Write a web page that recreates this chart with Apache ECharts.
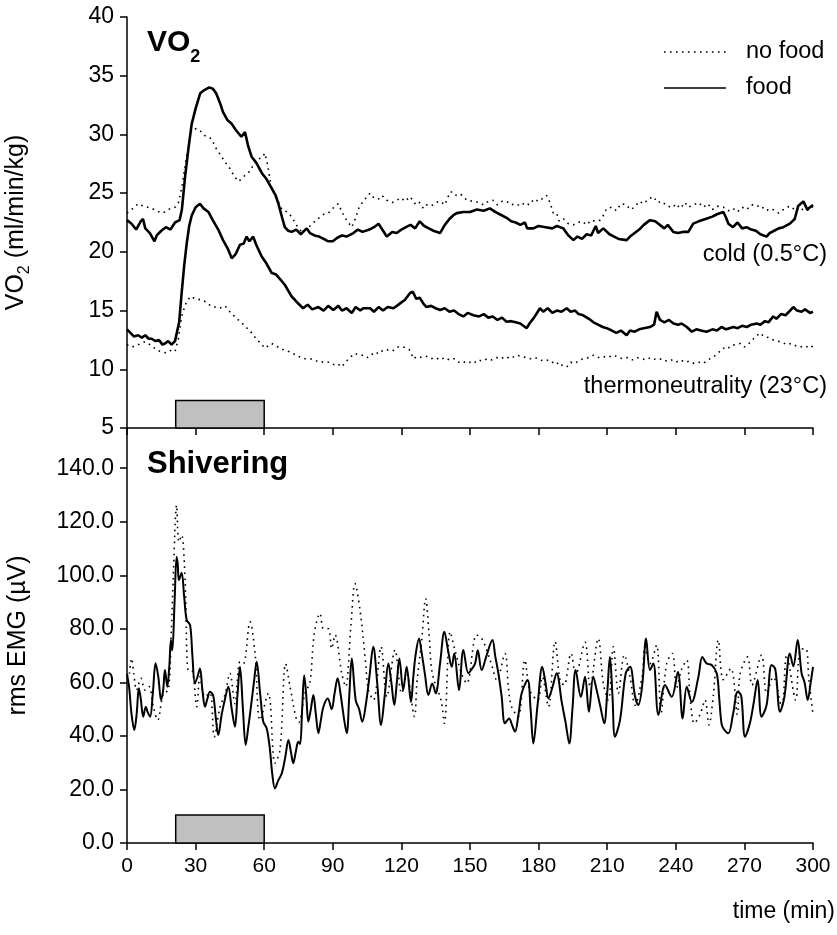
<!DOCTYPE html>
<html><head><meta charset="utf-8">
<script src="https://cdn.jsdelivr.net/npm/echarts@6/dist/echarts.min.js"></script>
<style>html,body{margin:0;padding:0;background:#fff}#c{width:837px;height:935px}</style>
</head><body><div id="c"></div>
<script>
// ---- data ----
const xTickValues = [0,30,60,90,120,150,180,210,240,270,300];
const vo2Ticks = [5,10,15,20,25,30,35,40];
const emgTicks = [0,20,40,60,80,100,120,140];
const seriesNames = ['no food','food'];
const panelTitles = ['VO2','Shivering'];
const conditionLabels = ['cold (0.5°C)','thermoneutrality (23°C)'];
const feedingTime = [21.3, 60];
const vo2BarTop = 7.35;
const emgBarTop = 10.5;

const coldFood = [[0,22.7],[2,22.4],[4,21.9],[6,22.6],[7,22.8],[8,22.0],[10,21.6],[12,20.9],[13,21.4],[15,21.8],[17,22.1],[19,21.9],[21,22.5],[23,22.7],[24,23.6],[25.4,26.4],[27,29.0],[28.3,30.9],[30,32.2],[32,33.5],[34,33.8],[36,34.0],[37.5,33.9],[39,33.5],[41,32.5],[42,31.9],[44,31.2],[45.8,30.9],[47.5,30.4],[50,29.8],[51.6,30.2],[53,29.0],[54.5,28.1],[56.5,27.6],[59,26.7],[61,26.2],[63.3,25.4],[65,24.8],[66.2,24.1],[68,22.8],[69,22.1],[70.5,21.8],[72,21.7],[74,21.9],[76,21.5],[78.6,22.0],[80,21.6],[82,21.4],[84,21.3],[86,21.1],[88,20.9],[90,20.9],[92,21.2],[94,21.4],[96,21.3],[99,21.6],[101,21.9],[103,21.7],[106,21.9],[108,22.1],[110,22.4],[112,21.8],[113.6,21.3],[116,21.7],[118,21.6],[120,21.9],[122,22.1],[124,22.3],[126,22.0],[128,22.6],[130,22.2],[132,22.0],[134,21.8],[136.9,21.6],[139,22.3],[141,22.8],[142.6,23.1],[144.2,23.3],[147,23.4],[150,23.4],[153,23.6],[156,23.5],[158.7,23.7],[161,23.4],[163,23.2],[166,22.9],[168,22.6],[170,22.5],[172,22.3],[174,22.5],[175,22.0],[177.7,22.0],[180,22.2],[183,22.1],[186,22.0],[188,22.2],[190.8,22.0],[193,21.4],[195.2,21.0],[197,21.3],[199,21.1],[201,21.5],[203,21.4],[205,22.2],[206,21.6],[208.3,22.0],[211,21.5],[213,21.3],[215,21.1],[218.5,21.0],[220,21.3],[222,21.6],[224,21.9],[226,22.3],[228.7,22.7],[231,22.6],[233,22.3],[235,22.0],[236.5,22.3],[238.9,21.7],[241,21.6],[243,21.7],[245.5,21.7],[247.6,22.4],[250,22.6],[253,22.8],[256,23.0],[258,23.2],[260.8,23.4],[262,22.9],[263,22.4],[265,22.1],[267,22.5],[269,22.0],[271,22.1],[273,21.9],[275,21.8],[277,21.5],[279.7,21.3],[281,21.6],[283,21.8],[285,22.0],[287,22.1],[289.9,22.4],[292,22.8],[293.5,23.9],[295.8,24.3],[297.5,23.6],[299.4,23.9],[300,24.0]];

const coldNoFood = [[0,23.3],[2,23.6],[4.9,24.1],[7,23.9],[9,23.8],[10.8,23.7],[13,23.5],[15,23.3],[16.6,23.4],[19,23.7],[21,23.8],[22.4,24.1],[24,25.5],[25.4,27.3],[27,29.2],[28.3,30.4],[30.5,30.5],[32,30.3],[34,29.9],[35.6,29.8],[37,29.6],[39,28.8],[41.4,28.1],[43,27.6],[45,27.1],[47,26.4],[48.7,26.0],[50,26.2],[51.5,26.5],[53,26.7],[55,27.3],[57,27.9],[59,28.0],[60.3,28.4],[61.5,27.4],[63.3,25.3],[65,24.8],[67.7,23.6],[70,23.4],[72,23.0],[74,22.3],[76.4,21.7],[78,21.9],[80,22.2],[82.2,22.6],[84,22.9],[86,23.2],[88,23.3],[90,23.7],[92.4,24.1],[94,23.4],[96,22.7],[98.3,22.1],[100,22.9],[101.5,23.8],[103.3,24.3],[106.3,25.0],[108,24.6],[110,24.5],[111.5,24.8],[113.6,24.4],[116,24.2],[118,24.4],[120,24.6],[121.5,24.3],[123.8,24.7],[126,24.1],[127.5,24.3],[129.6,23.7],[131,24.0],[133,23.9],[135,24.2],[137,24.3],[139,24.0],[141.3,25.1],[142.7,25.1],[144,24.8],[146,24.9],[148.6,24.4],[151.5,24.3],[154,24.2],[156,24.0],[158,24.3],[160,24.4],[162,24.0],[164,24.3],[166,24.3],[168,24.0],[170,24.1],[172,23.9],[174,24.2],[176,24.0],[178,24.5],[180,24.3],[182,24.6],[183.5,24.8],[185,24.2],[186.4,23.3],[187.9,23.3],[189,22.6],[191,22.8],[193,22.4],[195.2,22.3],[197,22.5],[199,22.6],[201,22.3],[203,22.7],[205,22.6],[206.9,22.7],[208.3,23.1],[209.8,23.7],[212,23.8],[214,23.5],[216,24.1],[218.5,24.0],[220,23.6],[222,23.8],[224,24.3],[226,24.1],[228,24.5],[230.2,24.7],[232,24.2],[234,24.3],[236,23.9],[238.9,23.8],[240,24.1],[242,23.7],[244,24.2],[245.5,23.8],[247.7,24.0],[250,24.2],[252,23.8],[254,24.1],[256,23.6],[258,23.9],[260.8,23.8],[263,23.5],[265,23.7],[267,23.4],[269,23.8],[271,23.6],[273,24.0],[275.4,24.0],[277,23.7],[279,23.8],[280.5,23.5],[282.6,23.6],[285,23.3],[287,23.6],[289.9,23.9],[292,23.6],[294,23.9],[296,23.5],[298.7,23.6],[300,23.9]];

const thermoFood = [[0,13.4],[1.5,13.1],[3,12.8],[4.9,12.9],[6.5,12.7],[8,12.9],[9.5,12.6],[10.8,12.6],[12.5,12.4],[14,12.5],[15.5,12.1],[16.6,12.2],[18,12.4],[19.5,12.1],[21,12.4],[21.7,12.5],[22.8,14.0],[23.9,16.5],[25,18.8],[26.1,20.7],[27.2,22.2],[28.3,23.1],[30,23.8],[31.9,24.1],[33.5,23.7],[35.6,23.4],[37.5,22.7],[39.9,21.9],[42,21.0],[44,20.3],[45.8,19.45],[47.5,19.8],[49.4,20.6],[51,20.7],[52.3,21.3],[53.5,20.9],[55.2,21.3],[56.5,20.6],[58.9,19.6],[61,19.0],[63.3,18.2],[65,18.1],[67.7,17.5],[69,17.2],[70.5,16.7],[72,16.2],[73.5,15.9],[74.9,15.6],[77,15.2],[79,15.5],[81,15.1],[83.7,15.3],[86,15.0],[88,15.4],[90.2,15.05],[92.4,15.4],[94,15.0],[96,15.2],[98.3,14.8],[100,15.3],[102,15.0],[103.3,15.2],[106.3,15.2],[108,14.9],[110,15.3],[112,15.0],[114,15.3],[116.5,15.2],[118,15.4],[120,15.7],[121.5,15.9],[123.8,16.5],[125,16.6],[126.5,16.0],[128,16.1],[129.6,15.6],[131,15.3],[133,15.4],[135,15.2],[136.9,15.05],[139,15.2],[141,14.9],[143,15.0],[145,14.7],[147.1,14.5],[149,14.8],[151.5,14.6],[154,14.5],[156,14.7],[158,14.4],[160,14.5],[162,14.2],[164,14.4],[166,14.05],[168,14.1],[170,14.0],[172,13.9],[174.8,13.5],[176,13.9],[178,14.4],[180.6,15.2],[182,14.9],[184,15.2],[186,14.8],[188,15.0],[190,14.9],[192.3,15.2],[194,14.9],[196,15.0],[197.5,14.7],[199.5,14.6],[202,14.3],[204,14.0],[206,13.8],[208,13.6],[209.8,13.5],[212,13.3],[214,13.1],[216,13.3],[218.5,12.9],[220,13.3],[222,13.2],[224,13.4],[226,13.5],[228.7,13.6],[230.5,13.8],[231.6,14.9],[233.1,14.2],[235,14.0],[237,14.2],[239,13.9],[241,13.8],[242.5,13.9],[244.8,13.6],[247,13.2],[249,13.4],[251,13.3],[253.5,13.2],[256,13.4],[258,13.3],[260,13.6],[262,13.4],[265.2,13.6],[267,13.5],[269,13.7],[271,13.6],[273,13.8],[275.4,13.9],[277,13.8],[279,14.1],[280.5,14.0],[282.6,14.5],[284,14.3],[286,14.7],[288,14.6],[289.5,14.9],[291.4,15.3],[293,15.0],[295,14.9],[296.5,15.1],[298.7,14.8],[300,14.9]];

const thermoNoFood = [[0,12.1],[2,11.9],[4,12.0],[6,12.2],[7.9,12.35],[10,12.1],[12,11.8],[13.5,11.6],[15.2,11.5],[17,11.4],[19,11.6],[21,11.5],[22.5,12.6],[23.9,14.5],[25.5,15.5],[27.6,16.2],[30,16.0],[32.7,15.9],[35,15.7],[36.5,15.4],[38.5,15.3],[40.5,15.2],[42.9,15.4],[44.5,15.0],[46.5,14.6],[48.7,14.2],[51,13.8],[52.5,13.5],[54.5,13.1],[56.5,12.6],[58.5,12.2],[60.3,11.8],[61.8,12.0],[63.3,12.2],[65,12.0],[67,11.8],[69.1,11.6],[71,11.5],[73,11.3],[75,11.1],[77.8,10.9],[80,10.9],[82,10.8],[84,10.6],[86.6,10.65],[88.5,10.6],[90.5,10.4],[92,10.5],[93.9,10.2],[95.5,10.6],[97.5,11.0],[99.7,11.35],[101.5,11.2],[103.3,11.2],[105,11.0],[107,11.3],[108.5,11.2],[110.6,11.6],[112.5,11.5],[114.5,11.7],[116.5,11.6],[118.5,11.9],[120.8,11.9],[122.5,11.8],[123.8,11.6],[125.2,10.9],[127,11.1],[129,11.0],[131,11.1],[133,10.9],[135,11.0],[136.9,10.8],[139,11.0],[141,10.8],[143,10.9],[145,10.6],[146.8,10.7],[148.6,10.5],[150,10.6],[151.5,10.5],[153.5,10.8],[155.5,10.7],[157.5,10.9],[159.5,10.8],[161.5,11.0],[163.5,10.9],[165.5,11.1],[167.5,10.9],[170.4,11.2],[172.5,11.1],[174.5,11.0],[176.5,10.9],[178.5,11.0],[180.5,10.8],[182.5,10.7],[184.5,10.8],[186,10.6],[187.5,10.4],[189,10.6],[190.5,10.3],[192.3,10.2],[194,10.6],[196,10.5],[198,10.8],[200,10.9],[202,11.0],[204,11.2],[206,11.0],[208,11.1],[210,11.0],[212.7,11.2],[215,11.0],[217,10.9],[219,11.0],[221,10.8],[223,11.0],[225,10.9],[227,10.8],[229,11.0],[231.6,10.8],[234,10.9],[236,10.7],[238,10.8],[240,10.6],[242,10.8],[244,10.6],[246,10.7],[248,10.5],[250,10.6],[252,10.5],[254,10.8],[256,11.0],[258,11.3],[260.8,11.8],[262.5,11.7],[264,12.0],[266,12.1],[268.1,12.2],[270,11.9],[272,12.2],[274,12.6],[276.8,13.1],[278.5,12.8],[280.5,12.7],[282.6,12.5],[284.5,12.4],[286.5,12.3],[288.5,12.1],[290.5,12.2],[292.5,12.0],[294.5,11.9],[296.5,12.0],[298.7,11.8],[300,12.0]];

const emgFood = [[0,63],[0.9,58.4],[2,48],[3.2,42.2],[4.2,48],[5.2,57.8],[6,54],[7.1,47.2],[8.2,50.9],[9,49],[10.1,47.2],[11.3,56],[12.5,67.1],[13.7,62],[14.9,53.4],[15.8,57],[16.6,64.6],[17.6,58.4],[18.5,66],[19.2,75.8],[19.8,72],[20.8,90],[21.7,106.9],[22.2,104],[22.7,98.2],[23.9,100.9],[25,92],[26.1,83.3],[27.6,81.4],[28.6,70],[29.7,59.6],[30.8,62],[31.9,65.2],[33,57],[34.1,50.9],[35.2,54],[36.3,56.5],[37.7,55],[38.8,47],[39.9,40.3],[41.4,48],[42.9,54],[44.3,58.4],[45.8,50],[47.2,43.4],[48.3,55],[49.4,65.8],[50.7,50],[51.9,36.6],[53,43],[54.2,50.9],[55.5,60],[56.7,67.7],[58.2,56],[59.6,45.3],[61.1,42.8],[62.5,35],[63.5,26],[64.7,20.4],[66.2,23.5],[67.7,26.0],[69.2,32],[70.6,38.5],[71.7,34],[72.7,29.8],[73.8,34],[74.9,37.8],[75.7,37],[76.6,50],[77.5,62.7],[78.4,55],[79.3,45.3],[80.4,50],[81.5,55.3],[82.6,48],[83.7,41.0],[84.8,46],[85.9,50.9],[87.8,54],[89.5,50],[90.8,56],[92.1,61.5],[93.5,55],[94.8,47],[96.1,41.0],[97.2,55],[98.3,68.9],[100,53.4],[101.5,50],[102.9,45.3],[104.5,52],[106,62],[107.7,73.3],[109.4,60],[111.1,44.1],[112.7,55],[114.3,67.0],[115.6,60],[116.9,51.5],[118,60],[119.1,68.9],[120.8,57.1],[122.3,65.8],[124.2,52.7],[125.2,62],[126.2,70.2],[127.7,76.4],[128.9,70.8],[130.3,63],[131.8,55.3],[133.5,59.6],[135,55.9],[136.9,67],[138.8,78.9],[140.4,72],[142,65.8],[143.1,70.8],[145.2,57.1],[147.1,72.1],[149.3,63.4],[150.8,65],[152.2,67.0],[153.4,72],[155.1,64.6],[157.3,70.2],[159.8,75.8],[161,70],[162.4,63.4],[163.8,55],[165.3,44.7],[167.1,46.5],[168.4,44],[169.7,41.6],[171.2,48],[172.6,55.9],[175.2,60.9],[176.5,50],[177.7,37.2],[179.6,52],[181.6,65.8],[183,60],[184.3,54.0],[186,58],[187.9,63.4],[190.1,52.7],[191.8,45],[193.4,37.2],[194.8,50],[196.2,64.6],[198.5,54.6],[200.3,62.1],[202,49],[203.9,62.1],[205.4,57.1],[207,51],[208.7,44.7],[210,56],[211.2,69.5],[212.3,55],[213.4,39.7],[215.6,45.9],[218.1,63.4],[220,65.8],[222.2,54.6],[223.6,51.5],[225.4,59.6],[227,76.4],[228.7,64.6],[230.2,67.0],[232.4,47.8],[235.3,59.0],[238.2,54.6],[240.9,63.9],[243,46.5],[244.8,58.4],[247,52.7],[249.9,62.1],[251.6,69.5],[253.5,67],[255.7,66.5],[257.9,63.4],[259,54],[260.1,44.1],[261.5,42],[263,41],[265,48],[267.1,56.5],[268.6,55],[270.3,39.7],[272.4,44.7],[274,52],[275.8,60.9],[277.5,47.2],[279.7,51.5],[281.9,66.5],[283.5,65],[285.6,49],[287.5,54.6],[289.9,70.8],[291.4,66],[293.3,75.8],[295,63.4],[296.3,60],[297.7,53.4],[299,60],[300,65.8]];

const emgNoFood = [[0,63],[0.6,62.1],[2,68.9],[3,63],[4.2,57.1],[6.1,61.5],[7.9,57.1],[9.6,58.4],[11.5,51],[13.4,45.9],[15.9,55.9],[18.1,57.1],[19.2,75],[20.2,98.2],[21.7,126.2],[22.7,112.5],[23.9,115],[25.4,98.2],[26.8,64.6],[28.3,64.6],[30.5,50.9],[31.9,62.1],[34.1,54.6],[36.3,56],[38.2,39.7],[40.7,50.9],[42.9,55.5],[45,63.4],[47.2,52],[49.4,67.7],[50.9,67],[53.8,82.6],[56,70.8],[58.2,45.9],[61.8,55.9],[64.7,29.8],[66.9,34.7],[69.4,67],[71.3,58.4],[73.8,47.2],[75.1,45],[77.8,55.9],[80,60],[81.9,78.2],[84.4,85.7],[85.9,80.1],[88.1,80],[89.5,72.6],[91,77.7],[93.9,63.4],[95.6,58.4],[98,82],[99.7,96.9],[101.9,87],[104.1,69.5],[105.6,57.1],[107.8,53.4],[111.1,73.3],[113.6,54.6],[117.2,72.1],[120.1,55.9],[122.3,63],[125.7,47.2],[126.8,60],[128.9,75.8],[130.6,91.3],[132.1,78.2],[133.5,63.4],[137.3,53.4],[138.8,44.7],[141.3,78.9],[143.4,72.1],[146.4,63],[148.6,59.6],[152.9,77.7],[155.1,76.4],[157.3,72],[159.5,66.5],[161.7,60.9],[165.3,70.8],[166.8,58],[168.2,50.9],[171.1,47.2],[174,68.3],[176.2,57],[179.6,53.4],[181.6,62],[184.3,50.9],[187.2,75.2],[189.4,60.9],[191.1,59],[194.2,70.8],[196.2,63],[200.3,75],[202.5,58.4],[206.1,76.4],[208.3,59.6],[210.5,53.4],[212.7,73.3],[214.9,55.9],[217.5,70.2],[220,62],[222.2,51.5],[225.4,63],[226.5,73.3],[228.7,67],[231.6,73.9],[233.5,48.4],[236,67.0],[238.5,70.8],[240.3,58],[242.6,65],[244.8,68.3],[246.3,54],[248.1,44.7],[250.6,48],[252.8,53.4],[254.5,44.1],[256.4,55],[258.6,75.8],[260.8,61],[264.1,65.2],[266.9,48],[268.1,63],[271.4,69.5],[273.3,59],[277.5,70.2],[279.7,56],[282.6,62],[286.3,50.9],[288.5,70.2],[292.4,53.4],[294.3,72.1],[296.8,72.6],[298.2,61],[300,47.8]];

// ---- chart ----
const FONT = '"Liberation Sans", Arial, sans-serif';
const chart = echarts.init(document.getElementById('c'), null, {renderer: 'canvas'});
const dotted = {color: '#000', width: 1.6, type: [1.6, 4.4], cap: 'butt'};
const solidTop = {color: '#000', width: 2.6};
const solidBot = {color: '#000', width: 2.0};
const axisLine = {show: true, onZero: false, lineStyle: {color: '#000', width: 1.5}};
const axisTick = {show: true, inside: false, length: 7, lineStyle: {color: '#000', width: 1.5}};

const option = {
  animation: false,
  backgroundColor: '#fff',
  grid: [
    {left: 127, top: 17, width: 686, height: 411, containLabel: false, outerBoundsMode: 'none'},
    {left: 127, top: 428, width: 686, height: 415, containLabel: false, outerBoundsMode: 'none'}
  ],
  xAxis: [
    {gridIndex: 0, type: 'value', min: 0, max: 300, interval: 30, axisLine, axisTick,
     axisLabel: {show: false}, splitLine: {show: false}},
    {gridIndex: 1, type: 'value', min: 0, max: 300, interval: 30, axisLine, axisTick,
     axisLabel: {margin: 13, customValues: xTickValues, color: '#000', fontSize: 21, fontFamily: FONT}, splitLine: {show: false}}
  ],
  yAxis: [
    {gridIndex: 0, type: 'value', min: vo2Ticks[0], max: vo2Ticks[vo2Ticks.length-1], interval: 5, axisLine, axisTick,
     axisLabel: {margin: 13, color: '#000', fontSize: 23, fontFamily: FONT}, splitLine: {show: false},
     name: '{a|VO}{b|2}{a| (ml/min/kg)}', nameLocation: 'middle', nameRotate: 90, nameGap: 94,
     nameTextStyle: {color: '#000', fontFamily: FONT,
       rich: {a: {fontSize: 25, lineHeight: 34, fontFamily: FONT, color: '#000'},
              b: {fontSize: 16, lineHeight: 16, verticalAlign: 'bottom', fontFamily: FONT, color: '#000'}}}},
    {gridIndex: 1, type: 'value', min: 0, max: 155, interval: 20, axisLine,
     axisTick: Object.assign({customValues: emgTicks}, axisTick),
     axisLabel: {margin: 13, customValues: emgTicks, formatter: v => v.toFixed(1), color: '#000', fontSize: 23, fontFamily: FONT},
     splitLine: {show: false},
     name: 'rms EMG (µV)', nameLocation: 'middle', nameRotate: 90, nameGap: 96,
     nameTextStyle: {color: '#000', fontSize: 25, fontFamily: FONT}}
  ],
  series: [
    {name: seriesNames[0], type: 'line', xAxisIndex: 0, yAxisIndex: 0, data: coldNoFood, showSymbol: false, lineStyle: dotted, silent: true,
     markArea: {silent: true, itemStyle: {color: '#c0c0c0', borderColor: '#000', borderWidth: 1.5},
       data: [[{xAxis: feedingTime[0], yAxis: vo2Ticks[0]}, {xAxis: feedingTime[1], yAxis: vo2BarTop}]]}},
    {name: seriesNames[1], type: 'line', xAxisIndex: 0, yAxisIndex: 0, data: coldFood, showSymbol: false, lineStyle: solidTop, silent: true},
    {name: seriesNames[0], type: 'line', xAxisIndex: 0, yAxisIndex: 0, data: thermoNoFood, showSymbol: false, lineStyle: dotted, silent: true},
    {name: seriesNames[1], type: 'line', xAxisIndex: 0, yAxisIndex: 0, data: thermoFood, showSymbol: false, lineStyle: solidTop, silent: true},
    {name: seriesNames[0], type: 'line', xAxisIndex: 1, yAxisIndex: 1, data: emgNoFood, showSymbol: false, smooth: 0.35, lineStyle: dotted, silent: true,
     markArea: {silent: true, itemStyle: {color: '#c0c0c0', borderColor: '#000', borderWidth: 1.5},
       data: [[{xAxis: feedingTime[0], yAxis: 0}, {xAxis: feedingTime[1], yAxis: emgBarTop}]]}},
    {name: seriesNames[1], type: 'line', xAxisIndex: 1, yAxisIndex: 1, data: emgFood, showSymbol: false, smooth: 0.35, lineStyle: solidBot, silent: true}
  ],
  graphic: [
    {type: 'text', left: 147, top: 28, silent: true,
     style: {text: '{a|VO}{b|2}', fontFamily: FONT,
       rich: {a: {fontSize: 30, fontWeight: 'bold', lineHeight: 46, fontFamily: FONT, fill: '#000', color: '#000'},
              b: {fontSize: 18, fontWeight: 'bold', lineHeight: 18, verticalAlign: 'bottom', fontFamily: FONT, fill: '#000', color: '#000'}}}},
    {type: 'text', left: 147, top: 449, silent: true,
     style: {text: panelTitles[1], fontSize: 31, fontWeight: 'bold', fontFamily: FONT, fill: '#000'}},
    {type: 'line', silent: true, shape: {x1: 664, y1: 52, x2: 726, y2: 52}, style: {stroke: '#000', lineWidth: 1.6, lineDash: [1.6, 4.4]}},
    {type: 'line', silent: true, shape: {x1: 664, y1: 88, x2: 726, y2: 88}, style: {stroke: '#000', lineWidth: 1.6}},
    {type: 'text', left: 746, top: 40, silent: true, style: {text: seriesNames[0], fontSize: 23.5, fontFamily: FONT, fill: '#000'}},
    {type: 'text', left: 746, top: 76, silent: true, style: {text: seriesNames[1], fontSize: 23.5, fontFamily: FONT, fill: '#000'}},
    {type: 'text', right: 10, top: 243, silent: true, style: {text: conditionLabels[0], fontSize: 23.5, fontFamily: FONT, fill: '#000'}},
    {type: 'text', right: 10, top: 375, silent: true, style: {text: conditionLabels[1], fontSize: 23.5, fontFamily: FONT, fill: '#000'}},
    {type: 'text', right: 2, top: 900, silent: true, style: {text: 'time (min)', fontSize: 23, fontFamily: FONT, fill: '#000'}}
  ]
};
chart.setOption(option);
</script>
</body></html>
